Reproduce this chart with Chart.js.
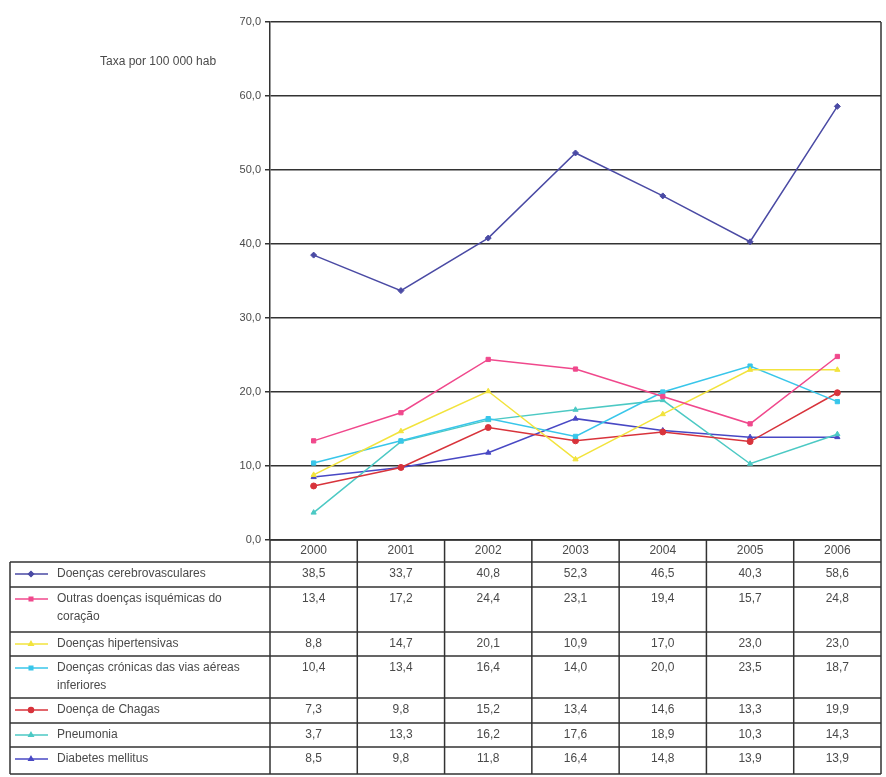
<!DOCTYPE html>
<html>
<head>
<meta charset="utf-8">
<script src="https://cdn.jsdelivr.net/npm/chart.js@4.4.1/dist/chart.umd.min.js"></script>
<style>
    html, body { margin: 0; padding: 0; background: #fff; }
    canvas { display: block; }
</style>
</head>
<body>
<canvas id="taxasChart" width="886" height="777"></canvas>
<script>
// Anos (colunas da tabela)
const years = ['2000', '2001', '2002', '2003', '2004', '2005', '2006'];

// Taxas por 100 000 habitantes
const cerebrovasculares = [38.5, 33.7, 40.8, 52.3, 46.5, 40.3, 58.6];
const isquemicas = [13.4, 17.2, 24.4, 23.1, 19.4, 15.7, 24.8];
const hipertensivas = [8.8, 14.7, 20.1, 10.9, 17.0, 23.0, 23.0];
const viasAereas = [10.4, 13.4, 16.4, 14.0, 20.0, 23.5, 18.7];
const chagas = [7.3, 9.8, 15.2, 13.4, 14.6, 13.3, 19.9];
const pneumonia = [3.7, 13.3, 16.2, 17.6, 18.9, 10.3, 14.3];
const diabetes = [8.5, 9.8, 11.8, 16.4, 14.8, 13.9, 13.9];

const seriesLabels = [
    'Doenças cerebrovasculares',
    'Outras doenças isquémicas do coração',
    'Doenças hipertensivas',
    'Doenças crónicas das vias aéreas inferiores',
    'Doença de Chagas',
    'Pneumonia',
    'Diabetes mellitus'
];
const seriesData = [cerebrovasculares, isquemicas, hipertensivas, viasAereas, chagas, pneumonia, diabetes];
const seriesColors = ['#4a4aa4', '#f0488c', '#f2e33c', '#38c6ea', '#d8333b', '#4cc9c4', '#4848c4'];
const seriesMarkers = ['rectRot', 'rect', 'triangle', 'rect', 'circle', 'triangle', 'triangle'];

const yTicks = [0, 10, 20, 30, 40, 50, 60, 70];
const yTitle = 'Taxa por 100 000 hab';

const FAMILY = '"Liberation Sans", Arial, sans-serif';
const FONT = '12px ' + FAMILY;
const TEXT = '#4a4a4a';
const LINE = '#333';

// tabela de dados por baixo do gráfico, alinhada com as colunas do eixo x
const tablePlugin = {
    id: 'dataTable',
    afterDraw(chart) {
        const ctx = chart.ctx;
        const xs = chart.scales.x;
        const area = chart.chartArea;
        const band = (area.right - area.left) / years.length;
        const legendLeft = 10;
        const headerH = 22;
        const rowH = [25, 45, 24, 42, 25, 24, 27];

        ctx.save();
        ctx.font = FONT;
        ctx.fillStyle = TEXT;
        ctx.strokeStyle = LINE;
        ctx.lineWidth = 1.5;

        // moldura direita da área do gráfico
        ctx.beginPath();
        ctx.moveTo(area.right, area.top);
        ctx.lineTo(area.right, area.bottom);
        ctx.stroke();

        // título do eixo y
        ctx.textAlign = 'left';
        ctx.textBaseline = 'middle';
        ctx.fillText(yTitle, 100, 62);

        const top = area.bottom;
        const bodyTop = top + headerH;
        let bottom = bodyTop;
        rowH.forEach(h => bottom += h);

        // cabeçalho com os anos
        ctx.textAlign = 'center';
        years.forEach((yr, i) => {
            ctx.fillText(yr, xs.getPixelForValue(i), top + headerH / 2);
        });

        // linhas horizontais
        ctx.beginPath();
        ctx.moveTo(area.left, top);
        ctx.lineTo(area.right, top);
        ctx.moveTo(legendLeft, bodyTop);
        ctx.lineTo(area.right, bodyTop);
        let y = bodyTop;
        rowH.forEach(h => {
            y += h;
            ctx.moveTo(legendLeft, y);
            ctx.lineTo(area.right, y);
        });
        // linhas verticais
        for (let i = 0; i <= years.length; i++) {
            const x = area.left + i * band;
            ctx.moveTo(x, top);
            ctx.lineTo(x, bottom);
        }
        ctx.moveTo(legendLeft, bodyTop);
        ctx.lineTo(legendLeft, bottom);
        ctx.stroke();

        // linhas da tabela: legenda + valores
        y = bodyTop;
        seriesLabels.forEach((label, s) => {
            const cy = y + 12;
            const color = seriesColors[s];

            ctx.strokeStyle = color;
            ctx.lineWidth = 1.5;
            ctx.beginPath();
            ctx.moveTo(15, cy);
            ctx.lineTo(48, cy);
            ctx.stroke();
            ctx.fillStyle = color;
            Chart.helpers.drawPoint(ctx, { pointStyle: seriesMarkers[s], radius: 2.5, rotation: 0, borderWidth: 1 }, 31, cy);
            ctx.fill();

            // quebra do texto da legenda
            ctx.fillStyle = TEXT;
            ctx.textAlign = 'left';
            const maxW = 200;
            const words = label.split(' ');
            const lines = [];
            let cur = '';
            words.forEach(w => {
                const test = cur ? cur + ' ' + w : w;
                if (ctx.measureText(test).width > maxW && cur) {
                    lines.push(cur);
                    cur = w;
                } else {
                    cur = test;
                }
            });
            lines.push(cur);
            lines.forEach((ln, k) => ctx.fillText(ln, 57, cy + k * 18));

            ctx.textAlign = 'center';
            seriesData[s].forEach((v, i) => {
                ctx.fillText(v.toFixed(1).replace('.', ','), xs.getPixelForValue(i), cy);
            });
            y += rowH[s];
        });
        ctx.restore();
    }
};

const datasets = seriesLabels.map((label, s) => ({
    label: label,
    data: seriesData[s],
    borderColor: seriesColors[s],
    backgroundColor: seriesColors[s],
    borderWidth: 1.5,
    pointStyle: seriesMarkers[s],
    pointRadius: 3,
    pointBorderWidth: 1,
    tension: 0
}));

new Chart(document.getElementById('taxasChart').getContext('2d'), {
    type: 'line',
    data: { labels: years, datasets: datasets },
    options: {
        responsive: false,
        animation: false,
        layout: { padding: { top: 22, right: 3, bottom: 237, left: 0 } },
        plugins: {
            legend: { display: false },
            tooltip: { enabled: false }
        },
        scales: {
            x: {
                display: false,
                offset: true
            },
            y: {
                min: 0,
                max: 70,
                afterFit(scale) { scale.width = 270; },
                afterBuildTicks(scale) { scale.ticks = yTicks.map(v => ({ value: v })); },
                grid: { color: LINE, lineWidth: 1.5, tickLength: 5 },
                border: { color: LINE, width: 1.5 },
                ticks: {
                    color: TEXT,
                    font: { family: FAMILY, size: 11 },
                    padding: 4,
                    callback: v => v.toFixed(1).replace('.', ',')
                }
            }
        }
    },
    plugins: [tablePlugin]
});
</script>
</body>
</html>
